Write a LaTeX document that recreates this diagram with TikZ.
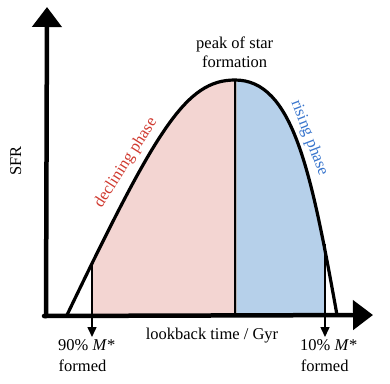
\documentclass[tikz,border=0pt]{standalone}
\usepackage{fontspec}
\setmainfont{Liberation Serif}
\usetikzlibrary{arrows.meta}
\definecolor{pinkfill}{RGB}{243,213,210}
\definecolor{bluefill}{RGB}{182,208,234}
\definecolor{redtext}{RGB}{208,58,48}
\definecolor{bluetext}{RGB}{58,118,205}
\tikzset{
  axisline/.style={line width=4.5pt, line cap=round, -{Triangle[width=29pt,length=20pt]}},
  markline/.style={line width=1.5pt, -{Triangle[width=9pt,length=10pt]}},
  curveline/.style={line width=3.2pt, line cap=round},
  lbl/.style={font=\fontsize{16.5}{19.5}\selectfont, inner sep=0pt},
}
\begin{document}
\begin{tikzpicture}[x=1pt,y=-1pt]
\useasboundingbox (0,0) rectangle (390,383);
\def\sfrcurve{(67,315) .. controls (157,127.8) and (186,80) .. (235,80) .. controls (293,80) and (311,171) .. (337,315)}
% coordinates
\coordinate (o) at (46,316);
\coordinate (ytip) at (47,7);
\coordinate (xtip) at (373,315);
\coordinate (xo) at (44,316);
\coordinate (peak) at (235,80);
\coordinate (peakbase) at (235,315);
\coordinate (p90) at (92,263);
\coordinate (a90) at (92,337);
\coordinate (p10) at (325,244);
\coordinate (a10) at (325,337);
% fills
\begin{scope}
  \clip (92,0) rectangle (235,316);
  \fill[pinkfill] \sfrcurve -- cycle;
\end{scope}
\begin{scope}
  \clip (235,0) rectangle (325,316);
  \fill[bluefill] \sfrcurve -- cycle;
\end{scope}
% peak line
\draw[line width=1.2pt, gray!60] ([xshift=1.6pt]peak) -- ([xshift=1.6pt]peakbase);
\draw[line width=2pt, black] (peak) -- (peakbase);
% curve
\draw[curveline] \sfrcurve;
% markers
\draw[markline] (p90) -- (a90);
\draw[markline] (p10) -- (a10);
% axes
\draw[axisline] (o) -- (ytip);
\draw[axisline] (xo) -- (xtip);
% labels
\node[lbl, anchor=base] (peaklbl1) at (234.7,48) {peak of star};
\node[lbl, anchor=base] (peaklbl2) at (234.7,67.7) {formation};
\node[lbl, anchor=base] (xlbl) at (212,339.5) {lookback time / Gyr};
\node[lbl, anchor=base, rotate=90] (ylbl) at (21,161) {SFR};
\node[lbl, anchor=base west] (t90a) at (58,350) {90\% \textit{M}*};
\node[lbl, anchor=base west] (t90b) at (58.5,371.5) {formed};
\node[lbl, anchor=base west] (t10a) at (300,350) {10\% \textit{M}*};
\node[lbl, anchor=base west] (t10b) at (300.7,371.5) {formed};
\node[lbl, anchor=base, rotate=57.4, text=redtext] (decl) at (129.3,164.9) {declining phase};
\node[lbl, anchor=base, rotate=-69, text=bluetext] (rise) at (305.5,139.5) {rising phase};
\end{tikzpicture}
\end{document}
